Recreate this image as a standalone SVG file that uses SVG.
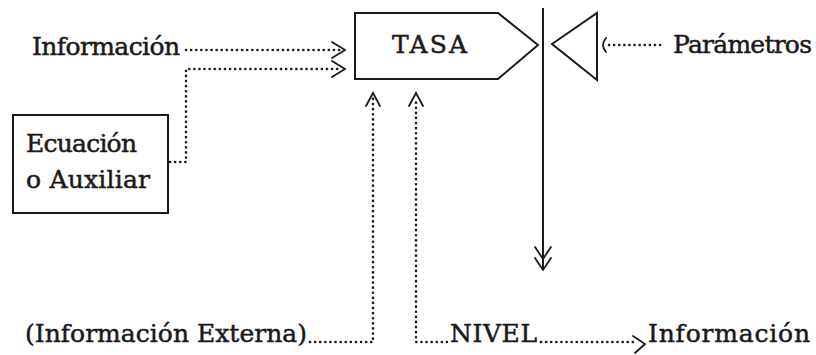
<svg xmlns="http://www.w3.org/2000/svg" width="816" height="355" viewBox="0 0 816 355">
<style>
text{font-family:"DejaVu Serif","Liberation Serif",serif;fill:#1a1a1a;stroke:#1a1a1a;stroke-width:0.5;font-size:25px}
.solid{fill:none;stroke:#1a1a1a;stroke-width:2;stroke-linejoin:miter}
.dot{fill:none;stroke:#1a1a1a;stroke-width:2.6;stroke-linecap:round;stroke-dasharray:0.1 5}
.head{fill:none;stroke:#1a1a1a;stroke-width:1.8;stroke-linecap:round;stroke-linejoin:miter}
</style>
<rect width="816" height="355" fill="#fff"/>
<g id="tasa">
<polygon class="solid" points="355,13 498,13 538,45 498,79 355,79"/>
<text x="392" y="53" textLength="75" font-size="27">TASA</text>
</g>
<g id="ecuacion">
<rect class="solid" x="13" y="115" width="155" height="98"/>
<text x="26" y="152" textLength="111">Ecuación</text>
<text x="26" y="188" textLength="124">o Auxiliar</text>
</g>
<g id="parametros">
<polygon class="solid" points="552,44 597,13 597,80"/>
<text x="673" y="53" textLength="139">Parámetros</text>
</g>
<g id="informacion-in">
<text x="32" y="55" textLength="148">Información</text>
</g>
<g id="informacion-externa">
<text x="25" y="342" textLength="282">(Información Externa)</text>
</g>
<g id="nivel">
<text x="450" y="342" textLength="87">NIVEL</text>
</g>
<g id="informacion-out">
<text x="648" y="342" textLength="162">Información</text>
</g>
<g id="connectors">
<line class="solid" x1="543" y1="8" x2="543" y2="270"/>
<polyline class="head" points="535,247 543,259 551,247"/>
<polyline class="head" points="535,258 543,270 551,258"/>
<line class="dot" x1="186" y1="50" x2="340" y2="50"/>
<polyline class="head" points="332,42 345,50 332,58"/>
<polyline class="dot" points="170,162 186,162 186,69 340,69"/>
<polyline class="head" points="332,61 345,69 332,77"/>
<polyline class="dot" points="310,342 373,342 373,98"/>
<polyline class="head" points="366,106 373,93 380,106"/>
<polyline class="dot" points="447,342 416,342 416,98"/>
<polyline class="head" points="409,106 416,93 423,106"/>
<line class="dot" x1="541" y1="342" x2="634" y2="342"/>
<polyline class="head" points="633,336 645,344 635,353"/>
<line class="dot" x1="609" y1="45" x2="664" y2="45"/>
<path class="head" d="M606,38 Q600,45 606,52"/>
</g>
</svg>
